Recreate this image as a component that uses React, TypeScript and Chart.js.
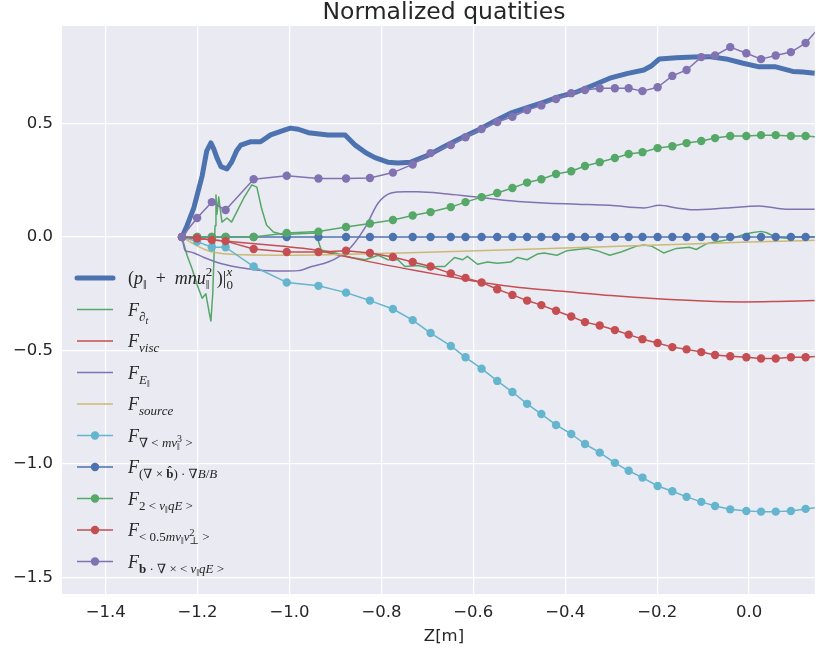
import React, { useEffect, useRef } from "react";
import { Chart, registerables } from "chart.js";

Chart.register(...registerables);

const TITLE = "Normalized quatities";
const X_LABEL = "Z[m]";
const X_TICKS = [-1.4, -1.2, -1.0, -0.8, -0.6, -0.4, -0.2, 0.0];
const X_TICK_LABELS = ["−1.4", "−1.2", "−1.0", "−0.8", "−0.6", "−0.4", "−0.2", "0.0"];
const Y_TICKS = [-1.5, -1.0, -0.5, 0.0, 0.5];
const Y_TICK_LABELS = ["−1.5", "−1.0", "−0.5", "0.0", "0.5"];

// thick blue: (p + mnu^2)
const Z_P = [-1.234, -1.223, -1.208, -1.199, -1.19, -1.18, -1.171, -1.165, -1.158, -1.149, -1.136, -1.126, -1.115, -1.106, -1.084, -1.063, -1.041, -1.013, -0.998, -0.981, -0.959, -0.916, -0.879, -0.857, -0.833, -0.814, -0.786, -0.764, -0.736, -0.699, -0.662, -0.623, -0.591, -0.554, -0.519, -0.483, -0.446, -0.411, -0.374, -0.338, -0.303, -0.266, -0.229, -0.212, -0.195, -0.158, -0.121, -0.087, -0.05, -0.013, 0.022, 0.058, 0.095, 0.117, 0.143, 0.167];
const P_TOTAL = [0, 0.05, 0.13, 0.2, 0.27, 0.38, 0.415, 0.39, 0.35, 0.31, 0.3, 0.33, 0.38, 0.405, 0.42, 0.42, 0.45, 0.47, 0.48, 0.475, 0.46, 0.45, 0.45, 0.405, 0.37, 0.35, 0.33, 0.326, 0.33, 0.36, 0.4, 0.44, 0.47, 0.51, 0.546, 0.57, 0.595, 0.62, 0.64, 0.67, 0.7, 0.72, 0.736, 0.755, 0.785, 0.79, 0.793, 0.795, 0.785, 0.766, 0.75, 0.75, 0.73, 0.727, 0.722, 0.72];

// green thin: F_dt
const Z_DT = [-1.234, -1.223, -1.212, -1.201, -1.19, -1.182, -1.175, -1.171, -1.167, -1.162, -1.16, -1.158, -1.154, -1.147, -1.136, -1.126, -1.115, -1.1, -1.082, -1.071, -1.061, -1.05, -1.035, -1.013, -0.981, -0.944, -0.937, -0.931, -0.9, -0.866, -0.835, -0.807, -0.786, -0.764, -0.749, -0.721, -0.699, -0.677, -0.662, -0.641, -0.623, -0.613, -0.591, -0.569, -0.548, -0.519, -0.504, -0.483, -0.461, -0.446, -0.418, -0.396, -0.374, -0.353, -0.331, -0.303, -0.277, -0.245, -0.229, -0.212, -0.186, -0.158, -0.13, -0.115, -0.093, -0.05, -0.028, -0.006, 0.009, 0.026, 0.037, 0.058, 0.08, 0.102, 0.143, 0.167];
const F_DT = [0, -0.08, -0.14, -0.21, -0.27, -0.25, -0.33, -0.37, -0.25, 0.05, 0.185, 0.1, 0.176, 0.066, 0.084, 0.066, 0.11, 0.17, 0.23, 0.22, 0.128, 0.053, 0.022, 0.01, 0.015, 0.018, -0.02, -0.057, -0.07, -0.09, -0.1, -0.08, -0.1, -0.1, -0.13, -0.125, -0.135, -0.13, -0.13, -0.09, -0.1, -0.085, -0.12, -0.11, -0.115, -0.11, -0.09, -0.1, -0.075, -0.07, -0.08, -0.06, -0.055, -0.05, -0.06, -0.08, -0.065, -0.04, -0.035, -0.04, -0.07, -0.05, -0.045, -0.055, -0.03, -0.013, 0.0, 0.015, 0.02, 0.025, 0.02, 0.0, -0.005, 0.0, 0.0, 0.0];

// red thin: F_visc
const Z_VISC = [-1.234, -1.17, -1.1, -1.02, -0.95, -0.88, -0.81, -0.72, -0.65, -0.58, -0.5, -0.4, -0.3, -0.2, -0.1, -0.013, 0.06, 0.143, 0.167];
const F_VISC = [0, -0.012, -0.025, -0.04, -0.055, -0.085, -0.115, -0.15, -0.175, -0.2, -0.222, -0.24, -0.258, -0.272, -0.282, -0.286, -0.284, -0.28, -0.279];

// purple thin: F_E
const Z_E = [-1.234, -1.227, -1.218, -1.208, -1.186, -1.143, -1.071, -1.013, -0.981, -0.952, -0.916, -0.894, -0.866, -0.835, -0.807, -0.779, -0.749, -0.721, -0.656, -0.591, -0.519, -0.446, -0.374, -0.303, -0.229, -0.195, -0.158, -0.121, -0.05, 0.022, 0.08, 0.143, 0.167];
const F_E = [0, -0.06, -0.065, -0.07, -0.09, -0.12, -0.145, -0.15, -0.148, -0.13, -0.11, -0.088, -0.044, 0.044, 0.15, 0.194, 0.2, 0.2, 0.19, 0.176, 0.16, 0.15, 0.145, 0.14, 0.128, 0.14, 0.128, 0.12, 0.128, 0.137, 0.123, 0.123, 0.123];

// yellow thin: F_source
const Z_SRC = [-1.234, -1.2, -1.17, -1.1, -1.0, -0.85, -0.76, -0.5, -0.2, 0.0, 0.167];
const F_SRC = [0, -0.04, -0.065, -0.078, -0.08, -0.075, -0.07, -0.055, -0.035, -0.022, -0.013];

// marker series share one grid
const Z_MARK = [-1.234, -1.201, -1.169, -1.139, -1.078, -1.006, -0.937, -0.877, -0.825, -0.775, -0.732, -0.693, -0.649, -0.617, -0.582, -0.548, -0.515, -0.483, -0.452, -0.42, -0.387, -0.357, -0.325, -0.292, -0.262, -0.232, -0.199, -0.167, -0.136, -0.104, -0.074, -0.041, -0.006, 0.026, 0.058, 0.091, 0.123, 0.156];
const F_MV3 = [0, -0.02, -0.045, -0.045, -0.13, -0.2, -0.215, -0.245, -0.28, -0.317, -0.366, -0.423, -0.48, -0.53, -0.58, -0.634, -0.683, -0.735, -0.78, -0.828, -0.868, -0.912, -0.95, -0.995, -1.03, -1.06, -1.097, -1.12, -1.145, -1.167, -1.185, -1.2, -1.207, -1.21, -1.21, -1.207, -1.198, -1.19];
const F_CURLB = [0, 0, 0, 0, 0, 0, 0, 0, 0, 0, 0, 0, 0, 0, 0, 0, 0, 0, 0, 0, 0, 0, 0, 0, 0, 0, 0, 0, 0, 0, 0, 0, 0, 0, 0, 0, 0, 0];
const F_2VQE = [0, 0, 0, 0, 0, 0.018, 0.024, 0.044, 0.06, 0.075, 0.095, 0.11, 0.132, 0.154, 0.176, 0.194, 0.216, 0.24, 0.255, 0.278, 0.29, 0.313, 0.33, 0.348, 0.366, 0.374, 0.392, 0.4, 0.414, 0.423, 0.436, 0.445, 0.445, 0.449, 0.449, 0.445, 0.445, 0.44];
const F_MVPERP = [0, -0.005, -0.013, -0.018, -0.053, -0.066, -0.066, -0.06, -0.07, -0.088, -0.11, -0.13, -0.16, -0.18, -0.2, -0.23, -0.255, -0.28, -0.3, -0.325, -0.35, -0.375, -0.39, -0.41, -0.43, -0.45, -0.467, -0.485, -0.495, -0.507, -0.52, -0.525, -0.53, -0.535, -0.535, -0.53, -0.53, -0.525];
const F_BCURL = [0, 0.084, 0.154, 0.119, 0.255, 0.27, 0.258, 0.258, 0.26, 0.284, 0.32, 0.37, 0.405, 0.44, 0.476, 0.507, 0.53, 0.56, 0.58, 0.608, 0.634, 0.648, 0.656, 0.656, 0.656, 0.643, 0.66, 0.71, 0.736, 0.793, 0.8, 0.837, 0.81, 0.784, 0.8, 0.815, 0.855, 0.93];

const BLUE = "#4C72B0";
const GREEN = "#55A868";
const RED = "#C44E52";
const PURPLE = "#8172B2";
const YELLOW = "#CCB974";
const CYAN = "#64B5CD";

// legend label segments: [text, size, dy, style, stacked]
type Seg = [string, number, number, string, boolean?];
const M = 18, S = 13, SS = 10;
const LABELS: Seg[][] = [
  [["(", M, 0, "r"], ["p", M, 0, "i"], ["‖", S, 5, "r"], ["  +  ", M, 0, "r"], ["mnu", M, 0, "i"], ["2", S, -8, "r", true], ["‖", S, 5, "r"], [" )", M, 0, "r"], ["|", M, 0, "r"], ["x", S, -8, "i", true], ["0", S, 5, "r"]],
  [["F", M, 0, "i"], ["∂", S, 5, "i"], ["t", SS, 8, "i"]],
  [["F", M, 0, "i"], ["visc", S, 5, "i"]],
  [["F", M, 0, "i"], ["E", S, 5, "i"], ["‖", SS, 8, "r"]],
  [["F", M, 0, "i"], ["source", S, 5, "i"]],
  [["F", M, 0, "i"], ["∇ < ", S, 5, "r"], ["mv", S, 5, "i"], ["3", SS, 0, "r", true], ["‖", SS, 8, "r"], [" >", S, 5, "r"]],
  [["F", M, 0, "i"], ["(∇ × ", S, 5, "r"], ["b̂", S, 5, "b"], [") · ∇", S, 5, "r"], ["B", S, 5, "i"], ["/", S, 5, "r"], ["B", S, 5, "i"]],
  [["F", M, 0, "i"], ["2 < ", S, 5, "r"], ["v", S, 5, "i"], ["‖", SS, 8, "r"], ["qE", S, 5, "i"], [" >", S, 5, "r"]],
  [["F", M, 0, "i"], ["< 0.5", S, 5, "r"], ["mv", S, 5, "i"], ["‖", SS, 8, "r"], ["v", S, 5, "i"], ["2", SS, 0, "r", true], ["⊥", SS, 8, "r"], [" >", S, 5, "r"]],
  [["F", M, 0, "i"], ["b", S, 5, "b"], [" · ∇ × < ", S, 5, "r"], ["v", S, 5, "i"], ["‖", SS, 8, "r"], ["qE", S, 5, "i"], [" >", S, 5, "r"]],
];

const pts = (xs: number[], ys: number[]) => xs.map((x, i) => ({ x, y: ys[i] }));

type Spec = { xs: number[]; ys: number[]; color: string; width: number; marker: boolean; smooth: boolean };
const SPECS: Spec[] = [
  { xs: Z_P, ys: P_TOTAL, color: BLUE, width: 5, marker: false, smooth: false },
  { xs: Z_DT, ys: F_DT, color: GREEN, width: 1.5, marker: false, smooth: false },
  { xs: Z_VISC, ys: F_VISC, color: RED, width: 1.5, marker: false, smooth: true },
  { xs: Z_E, ys: F_E, color: PURPLE, width: 1.5, marker: false, smooth: true },
  { xs: Z_SRC, ys: F_SRC, color: YELLOW, width: 1.5, marker: false, smooth: true },
  { xs: Z_MARK, ys: F_MV3, color: CYAN, width: 1.5, marker: true, smooth: false },
  { xs: Z_MARK, ys: F_CURLB, color: BLUE, width: 1.5, marker: true, smooth: false },
  { xs: Z_MARK, ys: F_2VQE, color: GREEN, width: 1.5, marker: true, smooth: false },
  { xs: Z_MARK, ys: F_MVPERP, color: RED, width: 1.5, marker: true, smooth: false },
  { xs: Z_MARK, ys: F_BCURL, color: PURPLE, width: 1.5, marker: true, smooth: false },
];

const TEXT = "#262626";
const SANS = '"DejaVu Sans", sans-serif';
const SERIF = '"Liberation Serif", "DejaVu Serif", serif';

const decor = {
  id: "decor",
  beforeDraw(chart: any) {
    const { ctx, chartArea: a } = chart;
    ctx.save();
    ctx.fillStyle = "#EAEAF2";
    ctx.fillRect(a.left, a.top, a.right - a.left, a.bottom - a.top);
    ctx.restore();
  },
  afterDatasetsDraw(chart: any) {
    const { ctx } = chart;
    ctx.save();
    ctx.fillStyle = TEXT;
    ctx.textAlign = "center";
    ctx.textBaseline = "middle";
    ctx.font = `23.5px ${SANS}`;
    ctx.fillText(TITLE, 444, 13);
    ctx.font = `16.5px ${SANS}`;
    ctx.fillText(X_LABEL, 444, 637);

    // legend
    ctx.textAlign = "left";
    ctx.textBaseline = "alphabetic";
    SPECS.forEach((s, i) => {
      const y = 278 + 31.5 * i;
      ctx.strokeStyle = s.color;
      ctx.lineWidth = s.width;
      ctx.lineCap = s.width > 3 ? "round" : "butt";
      ctx.beginPath();
      ctx.moveTo(77, y);
      ctx.lineTo(113, y);
      ctx.stroke();
      if (s.marker) {
        ctx.fillStyle = s.color;
        ctx.beginPath();
        ctx.arc(95, y, 4.2, 0, Math.PI * 2);
        ctx.fill();
      }
      ctx.fillStyle = TEXT;
      let x = 128;
      let pendingW = -1;
      const base = y + 6;
      for (const seg of LABELS[i]) {
        const [t, size, dy, st, stacked] = seg;
        const style = st === "i" ? "italic " : st === "b" ? "bold " : "";
        ctx.font = `${style}${size}px ${SERIF}`;
        ctx.fillText(t, x, base + dy);
        const w = ctx.measureText(t).width;
        if (stacked) {
          pendingW = w;
        } else {
          x += pendingW >= 0 ? Math.max(w, pendingW) : w;
          pendingW = -1;
        }
      }
    });
    ctx.restore();
  },
};

export default function App() {
  const ref = useRef<HTMLCanvasElement>(null);
  useEffect(() => {
    const canvas = ref.current!;
    const datasets = SPECS.map((s, i) => ({
      label: `s${i}`,
      data: pts(s.xs, s.ys),
      borderColor: s.color,
      backgroundColor: s.color,
      borderWidth: s.width,
      borderJoinStyle: "round" as const,
      borderCapStyle: "butt" as const,
      pointRadius: s.marker ? 4.2 : 0,
      pointHoverRadius: 0,
      pointBackgroundColor: s.color,
      pointBorderColor: s.color,
      pointBorderWidth: 0,
      cubicInterpolationMode: s.smooth ? ("monotone" as const) : ("default" as const),
      tension: 0,
      fill: false,
      order: SPECS.length - i,
    }));
    const chart = new Chart(canvas, {
      type: "line",
      data: { datasets },
      options: {
        animation: false,
        responsive: false,
        devicePixelRatio: 1,
        events: [],
        layout: { padding: { top: 26, left: 0, right: 0, bottom: 0 } },
        plugins: { legend: { display: false }, tooltip: { enabled: false }, title: { display: false } },
        scales: {
          x: {
            type: "linear",
            min: -1.495,
            max: 0.143,
            afterBuildTicks: (scale: any) => {
              scale.ticks = X_TICKS.map((v) => ({ value: v }));
            },
            afterFit: (scale: any) => {
              scale.height = 61;
            },
            ticks: {
              callback: (_v: any, i: number) => X_TICK_LABELS[i],
              font: { family: "DejaVu Sans", size: 16.5 },
              color: TEXT,
              padding: 9,
              maxRotation: 0,
              autoSkip: false,
            },
            grid: { color: "#FFFFFF", lineWidth: 1.2, drawTicks: false },
            border: { display: false },
          },
          y: {
            type: "linear",
            min: -1.573,
            max: 0.93,
            afterBuildTicks: (scale: any) => {
              scale.ticks = Y_TICKS.map((v) => ({ value: v }));
            },
            afterFit: (scale: any) => {
              scale.width = 62;
            },
            ticks: {
              callback: (_v: any, i: number) => Y_TICK_LABELS[i],
              font: { family: "DejaVu Sans", size: 16.5 },
              color: TEXT,
              padding: 9,
              autoSkip: false,
            },
            grid: { color: "#FFFFFF", lineWidth: 1.2, drawTicks: false },
            border: { display: false },
          },
        },
      },
      plugins: [decor],
    });
    return () => chart.destroy();
  }, []);
  return (
    <div style={{ position: "absolute", left: 0, top: 0, width: 819, height: 655, background: "#fff", overflow: "hidden" }}>
      <canvas ref={ref} width={819} height={655} style={{ display: "block", width: 819, height: 655 }} />
    </div>
  );
}
